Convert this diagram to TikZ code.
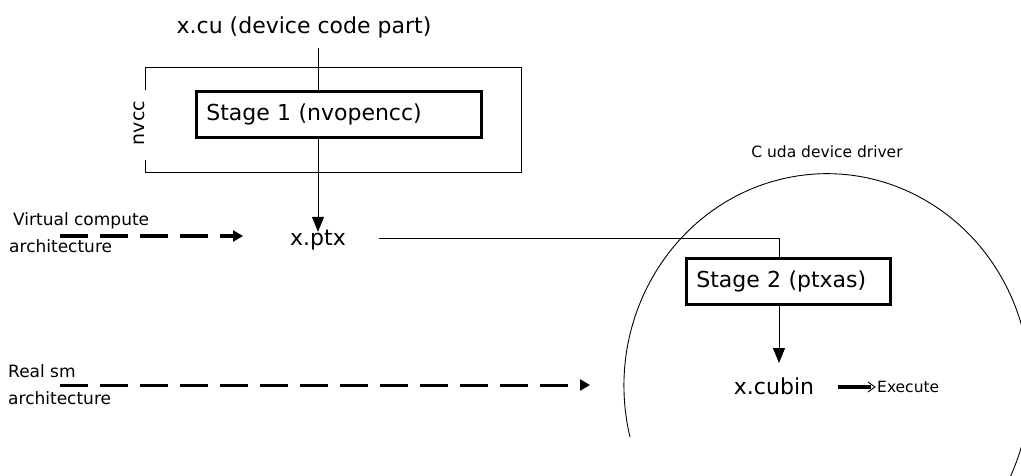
\documentclass[tikz,border=0pt]{standalone}
\usepackage{fontspec}
\setmainfont{DejaVu Sans}
\usetikzlibrary{arrows.meta,positioning}

\tikzset{
  big/.style={font=\fontsize{22}{26}\selectfont, inner sep=0pt},
  small/.style={font=\fontsize{17}{27}\selectfont, inner sep=0pt, align=left},
  tiny/.style={font=\fontsize{15.5}{18}\selectfont, inner sep=0pt},
  stagebox/.style={draw, line width=2.6pt, big, align=left, inner xsep=10pt,
    minimum height=46pt},
  thinline/.style={line width=0.9pt},
  downarr/.style={thinline, -{Triangle[length=15pt,width=12pt]}},
  dasharr/.style={line width=3pt, dash pattern=on 28pt off 12pt,
    -{Triangle[length=10pt,width=11pt]}},
}

\begin{document}
\begin{tikzpicture}[x=1pt,y=-1pt]
  \useasboundingbox (0,0) rectangle (1021,476);

  % nvcc Teil
  \node[big] (xcu) at (304,27) {x.cu (device code part)};
  \draw[thinline] (145,90) -- (145,67) -- (521,67) -- (521,172) -- (145,172) -- (145,160);
  \node[font=\fontsize{19}{22}\selectfont, inner sep=0pt, rotate=90] (nvcc) at (139,123) {nvcc};
  \node[stagebox, text width=265pt, anchor=north west] (s1) at (195,90) {Stage 1 (nvopencc)};
  \node[big] (ptx) at (318,240) {x.ptx};
  \draw[thinline] (ptx.north |- 0,48) -- (ptx.north |- s1.north);
  \draw[downarr] (ptx.north |- s1.south) -- ([yshift=-2pt]ptx.north);

  % Treiber
  \node[tiny] (drv) at (827,152) {C uda device driver};
  \begin{scope}
    \clip (0,0) rectangle (1021,476);
    \draw[thinline] (630,437) arc[start angle=194, end angle=-75, x radius=203pt, y radius=212pt];
  \end{scope}
  \node[stagebox, text width=184pt, anchor=north west] (s2) at (685,257) {Stage 2 (ptxas)};
  \coordinate (knee) at (779,238);
  \draw[thinline] ([xshift=33pt]ptx.east |- knee) -- (knee) -- (knee |- s2.north);
  \node[big] (cubin) at (774,386) {x.cubin};
  \draw[downarr] (knee |- s2.south) -- (knee |- 0,363);
  \node[tiny, anchor=west] (exec) at (877,387) {Execute};
  \draw[line width=3.2pt] ([xshift=24pt]cubin.east |- exec.west) -- ([xshift=-6pt]exec.west);
  \draw[line width=0.9pt] ([xshift=-9pt,yshift=-5pt]exec.west) -- ([xshift=-2pt]exec.west)
    -- ([xshift=-9pt,yshift=5pt]exec.west);

  % Architekturen
  \node[small, anchor=west] (virt) at (9,233) {\hspace*{4pt}Virtual compute\\architecture};
  \coordinate (virtend) at (243,236);
  \draw[dasharr] (60,236) -- (virtend);
  \node[small, anchor=west] (real) at (8,385) {Real sm\\architecture};
  \coordinate (realend) at (590,385);
  \draw[dasharr] (60,385) -- (realend);
\end{tikzpicture}
\end{document}
